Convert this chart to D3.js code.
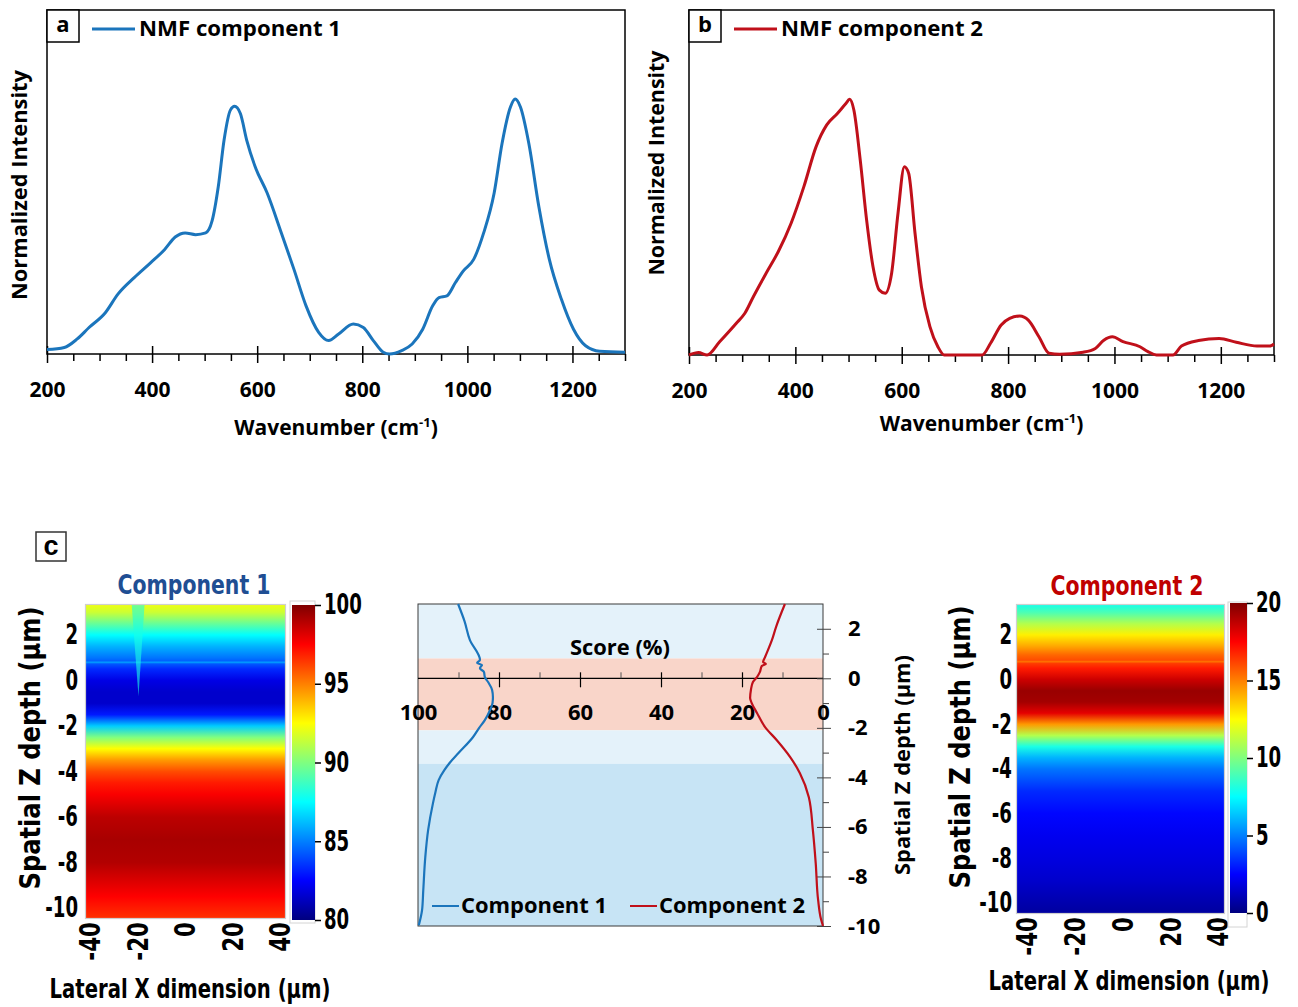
<!DOCTYPE html>
<html>
<head>
<meta charset="utf-8">
<script src="https://d3js.org/d3.v7.min.js"></script>
<style>
body { margin: 0; background: #fff; }
svg { display: block; }
</style>
</head>
<body>
<div id="fig"></div>
<script>
// ---- panel a / b : NMF spectra (intensity as fraction of frame height) ----
var wnA = [200, 233, 257, 280, 311, 335, 366, 397, 424, 444, 463, 483, 502, 514, 526, 537, 549, 557, 568, 580, 596, 619, 646, 670, 693, 717, 736, 755, 783, 802, 821, 840, 852, 875, 895, 915, 934, 946, 961, 977, 992, 1012, 1031, 1051, 1066, 1082, 1091, 1101, 1117, 1136, 1156, 1179, 1202, 1225, 1252, 1300];
var intA = [0.013, 0.019, 0.043, 0.077, 0.12, 0.174, 0.222, 0.265, 0.304, 0.34, 0.352, 0.347, 0.352, 0.386, 0.487, 0.622, 0.709, 0.72, 0.699, 0.622, 0.545, 0.468, 0.352, 0.246, 0.14, 0.063, 0.039, 0.058, 0.087, 0.077, 0.039, 0.005, 0, 0.01, 0.029, 0.072, 0.14, 0.164, 0.169, 0.207, 0.241, 0.275, 0.352, 0.468, 0.612, 0.718, 0.741, 0.718, 0.612, 0.429, 0.275, 0.159, 0.072, 0.024, 0.008, 0.005];

var wnB = [200, 218, 234, 258, 289, 305, 321, 345, 368, 392, 416, 439, 459, 479, 495, 502, 510, 522, 534, 546, 558, 569, 581, 593, 605, 613, 625, 637, 653, 668, 680, 751, 767, 787, 803, 822, 838, 858, 877, 897, 941, 964, 980, 996, 1016, 1048, 1063, 1079, 1110, 1126, 1158, 1197, 1229, 1268, 1292, 1300];
var intB = [0, 0.007, 0, 0.039, 0.092, 0.121, 0.169, 0.237, 0.3, 0.382, 0.488, 0.604, 0.667, 0.7, 0.729, 0.741, 0.71, 0.565, 0.391, 0.256, 0.188, 0.179, 0.237, 0.411, 0.546, 0.527, 0.353, 0.198, 0.082, 0.024, 0, 0, 0.034, 0.087, 0.106, 0.113, 0.101, 0.053, 0.005, 0.002, 0.008, 0.019, 0.043, 0.053, 0.039, 0.024, 0.01, 0, 0, 0.026, 0.042, 0.048, 0.037, 0.026, 0.026, 0.032];

var wnMajor = [200, 400, 600, 800, 1000, 1200];
var wnMinor = [250, 300, 350, 450, 500, 550, 650, 700, 750, 850, 900, 950, 1050, 1100, 1150, 1250, 1300];

// ---- panel c : depth profiles (score %) ----
var depth1 = [3.0, 2.3, 1.55, 0.74, 0.62, 0.54, 0.41, 0.25, 0.05, -0.15, -0.47, -0.76, -1.0, -1.28, -1.69, -2.0, -2.37, -3.02, -3.42, -3.71, -4.11, -4.6, -5.04, -6.13, -7.22, -8.56, -9.36, -9.97];
var score1 = [90.1, 88.5, 87.2, 84.7, 85.4, 84.2, 84.7, 83.7, 83.5, 82.7, 81.7, 81.5, 81.6, 82.2, 83.5, 84.9, 86.4, 90.0, 92.2, 93.5, 94.9, 95.7, 96.3, 97.5, 98.2, 98.7, 99.0, 99.8];
var depth2 = [3.0, 2.07, 1.55, 0.86, 0.66, 0.58, 0.5, 0.25, 0.05, -0.15, -0.47, -0.8, -1.0, -1.4, -1.97, -2.5, -3.18, -3.83, -4.8, -6.13, -7.46, -8.96, -9.72, -10.0];
var score2 = [9.4, 11.6, 12.6, 14.3, 14.8, 14.1, 15.1, 15.6, 16.3, 17.3, 17.8, 18.0, 17.6, 16.3, 14.3, 11.4, 8.1, 5.7, 3.5, 2.5, 1.8, 1.2, 0.5, 0];

// layer bands behind the profiles (depth limits)
var bandTop = [3, 0.8, -2.1, -3.45];
var bandBottom = [0.8, -2.1, -3.45, -10];
var scoreMajor = [100, 80, 60, 40, 20, 0];
var scoreMinor = [90, 70, 50, 30, 10];
var depthMajor = [2, 0, -2, -4, -6, -8, -10];
var depthMinor = [1, -1, -3, -5, -7, -9];

// ---- panel c : heatmaps, score per depth row ----
var hm1Depth = [3.5, 3.0, 2.5, 2.0, 1.5, 1.0, 0.87, 0.8, 0.73, 0.5, 0.0, -0.5, -1.0, -1.5, -2.0, -2.5, -3.0, -3.5, -4.0, -4.5, -5.0, -5.5, -6.0, -7.0, -8.0, -8.5, -9.0, -9.5, -10.0, -10.5];
var hm1Val = [92.5, 91.5, 89.5, 87.5, 86, 84.8, 84.4, 85.6, 84.2, 83.3, 82, 81.5, 81.5, 83, 86.5, 90, 92.5, 94.5, 96, 97, 97.6, 98.2, 98.8, 99.2, 99, 98.5, 98, 97.5, 97, 96.5];
// narrow streak near x = -20 µm in component 1
var streakX = [-22.5, -17, -19.6];
var streakZ = [3.4, 3.4, -0.7];
var streakVal = 88;

var hm2Depth = [3.5, 3.0, 2.5, 2.0, 1.5, 1.1, 0.87, 0.8, 0.73, 0.5, 0.0, -0.5, -1.0, -1.5, -2.0, -2.5, -3.0, -3.5, -4.0, -5.0, -6.0, -7.0, -8.0, -9.0, -10.0, -10.5];
var hm2Val = [7.5, 9, 11, 12.8, 14.2, 15.5, 16, 15.2, 16.3, 17, 18.5, 19.5, 19.3, 18, 14.5, 11, 8, 6, 4.8, 3.3, 2.6, 2.2, 1.9, 1.5, 0.9, 0.6];

var lateralTicks = [-40, -20, 0, 20, 40];
var cbar1Ticks = [80, 85, 90, 95, 100];
var cbar2Ticks = [0, 5, 10, 15, 20];

var BLUE = "#1b75bc", RED = "#c0101a";
var CAL = "'Open Sans', Lato, sans-serif";
var NAR = "'DejaVu Sans Condensed', 'DejaVu Sans', sans-serif";
var plain = function (d) { return String(d); };

var svg = d3.select("#fig").append("svg").attr("width", 1298).attr("height", 1007);
svg.append("rect").attr("width", 1298).attr("height", 1007).attr("fill", "#fff");
var defs = svg.append("defs");

var jet = d3.scaleLinear()
  .domain([0, 0.125, 0.375, 0.625, 0.875, 1])
  .range(["#00007f", "#0000ff", "#00ffff", "#ffff00", "#ff0000", "#7f0000"]);

function styleAxis(ax, family, size) {
  ax.attr("font-family", family).attr("font-size", size).attr("font-weight", "bold");
  ax.select(".domain").remove();
}
// squeeze text horizontally (no narrow font installed)
function squeeze(sel, f) {
  sel.each(function () {
    var w = this.getComputedTextLength();
    d3.select(this).attr("textLength", w * f).attr("lengthAdjust", "spacingAndGlyphs");
  });
}
function fitTo(sel, w) {
  sel.attr("textLength", w).attr("lengthAdjust", "spacingAndGlyphs");
}

// Spectrum panel with frame, ticks, legend and letter box
function spectrum(o) {
  var xs = d3.scaleLinear().domain([200, 1300]).range([o.left, o.right]);
  var ys = d3.scaleLinear().domain([0, 1]).range([o.bottom, o.top]);
  var g = svg.append("g");

  g.append("rect").attr("x", o.left).attr("y", o.top)
    .attr("width", o.right - o.left).attr("height", o.bottom - o.top)
    .attr("fill", "none").attr("stroke", "#000").attr("stroke-width", 1.5);

  var minor = g.append("g").attr("transform", "translate(0," + o.bottom + ")")
    .call(d3.axisBottom(xs).tickValues(wnMinor).tickSize(7).tickFormat(""));
  styleAxis(minor, CAL, 22);
  minor.selectAll(".tick line").attr("stroke-width", 1.5);

  var major = g.append("g").attr("transform", "translate(0," + o.bottom + ")")
    .call(d3.axisBottom(xs).tickValues(wnMajor).tickSize(9).tickFormat(plain));
  styleAxis(major, CAL, 21);
  major.selectAll(".tick line").attr("y1", -8).attr("stroke-width", 1.5);
  major.selectAll(".tick text").attr("y", 36).attr("dy", "0.35em").attr("fill", "#000");

  var t = g.append("text").attr("x", (o.left + o.right) / 2).attr("y", o.xTitleY)
    .attr("text-anchor", "middle").attr("dy", "0.35em")
    .attr("font-family", CAL).attr("font-size", 21).attr("font-weight", "bold");
  t.append("tspan").text("Wavenumber (cm");
  t.append("tspan").attr("font-size", 13).attr("dy", -8).text("-1");
  t.append("tspan").attr("dy", 8).text(")");

  g.append("text").attr("transform", "translate(" + o.yTitleX + "," + o.yTitleY + ") rotate(-90)")
    .attr("text-anchor", "middle").attr("dy", "0.35em")
    .attr("font-family", CAL).attr("font-size", 21).attr("font-weight", "bold")
    .text("Normalized Intensity").call(fitTo, o.yTitleW);

  var line = d3.line().x(function (d) { return xs(d[0]); }).y(function (d) { return ys(d[1]); })
    .curve(d3.curveMonotoneX);
  g.append("path").datum(d3.zip(o.wn, o.val)).attr("d", line)
    .attr("fill", "none").attr("stroke", o.color).attr("stroke-width", 3).attr("stroke-linejoin", "round");

  // letter box + legend
  g.append("rect").attr("x", o.left).attr("y", o.top).attr("width", 32).attr("height", 32)
    .attr("fill", "#fff").attr("stroke", "#000").attr("stroke-width", 1.5);
  g.append("text").attr("x", o.left + 16).attr("y", o.top + 14).attr("dy", "0.35em")
    .attr("text-anchor", "middle").attr("font-family", CAL).attr("font-size", 22).attr("font-weight", "bold")
    .text(o.letter);
  g.append("line").attr("x1", o.left + 45).attr("x2", o.left + 88).attr("y1", o.top + 19).attr("y2", o.top + 19)
    .attr("stroke", o.color).attr("stroke-width", 3);
  g.append("text").attr("x", o.left + 92).attr("y", o.top + 19).attr("dy", "0.35em")
    .attr("font-family", CAL).attr("font-size", 21).attr("font-weight", "bold")
    .text(o.legend).call(fitTo, 202);
}

spectrum({ left: 47, right: 625, top: 10, bottom: 354, wn: wnA, val: intA, color: BLUE,
  letter: "a", legend: "NMF component 1", xTitleY: 428, yTitleX: 20, yTitleY: 185, yTitleW: 230 });
spectrum({ left: 689, right: 1274, top: 10, bottom: 355, wn: wnB, val: intB, color: RED,
  letter: "b", legend: "NMF component 2", xTitleY: 424, yTitleX: 657, yTitleY: 163, yTitleW: 225 });

// ---- label c ----
svg.append("rect").attr("x", 36).attr("y", 532).attr("width", 30).attr("height", 29)
  .attr("fill", "#fff").attr("stroke", "#333").attr("stroke-width", 1.5);
svg.append("text").attr("x", 51).attr("y", 546).attr("dy", "0.35em").attr("text-anchor", "middle")
  .attr("font-family", "'Liberation Sans', Arial, sans-serif").attr("font-size", 27).attr("font-weight", "bold")
  .text("c");

// Heatmap of a score vs depth (rows) with colour bar
function heatmap(o) {
  var xs = d3.scaleLinear().domain(o.xDom).range([o.x0, o.x1]);
  var ys = d3.scaleLinear().domain(o.zDom).range([o.y0, o.y1]);
  var cs = d3.scaleLinear().domain(o.cDom).range([0, 1]).clamp(true);
  var g = svg.append("g");

  var gTop = ys(o.depth[0]), gBot = ys(o.depth[o.depth.length - 1]);
  var grad = defs.append("linearGradient").attr("id", "hm" + o.id)
    .attr("gradientUnits", "userSpaceOnUse").attr("x1", 0).attr("x2", 0).attr("y1", gTop).attr("y2", gBot);
  o.depth.forEach(function (z, i) {
    grad.append("stop").attr("offset", (ys(z) - gTop) / (gBot - gTop)).attr("stop-color", jet(cs(o.val[i])));
  });
  defs.append("clipPath").attr("id", "clip" + o.id).append("rect")
    .attr("x", o.x0).attr("y", o.y0).attr("width", o.x1 - o.x0).attr("height", o.y1 - o.y0);

  var plot = g.append("g").attr("clip-path", "url(#clip" + o.id + ")");
  plot.append("rect").attr("x", o.x0).attr("y", o.y0).attr("width", o.x1 - o.x0).attr("height", o.y1 - o.y0)
    .attr("fill", "url(#hm" + o.id + ")");
  if (o.streak) {
    var pts = o.streak.x.map(function (x, i) { return [xs(x), ys(o.streak.z[i])]; });
    plot.append("path").attr("d", "M" + pts.join("L") + "Z")
      .attr("fill", jet(cs(o.streak.val))).attr("opacity", 0.6);
  }
  g.append("rect").attr("x", o.x0 - 0.5).attr("y", o.y0 - 0.5).attr("width", o.x1 - o.x0 + 1).attr("height", o.y1 - o.y0 + 1)
    .attr("fill", "none").attr("stroke", "#cfcfcf").attr("stroke-width", 1.2);

  // title
  g.append("text").attr("x", o.titleX).attr("y", o.titleY).attr("text-anchor", "middle")
    .attr("font-family", NAR).attr("font-size", 26).attr("font-weight", "bold").attr("fill", o.titleColor)
    .text(o.title).call(fitTo, 153);

  // depth axis
  var yax = g.append("g").attr("transform", "translate(" + o.x0 + ",0)")
    .call(d3.axisLeft(ys).tickValues(depthMajor).tickSize(0).tickPadding(o.yPad).tickFormat(plain));
  styleAxis(yax, NAR, 28);
  yax.selectAll("text").attr("fill", "#000").call(squeeze, 0.72);

  // lateral axis (rotated labels)
  var xax = g.append("g").attr("transform", "translate(0," + (o.y1 + 4) + ")")
    .call(d3.axisBottom(xs).tickValues(lateralTicks).tickSize(0).tickFormat(plain));
  styleAxis(xax, NAR, 28);
  xax.selectAll("text").attr("fill", "#000").attr("y", 0).attr("dy", "0.35em")
    .attr("transform", "rotate(-90)").attr("text-anchor", "end").call(squeeze, 0.85);

  // lateral title: squeezed with a transform so its box stays inside the page
  var lt = g.append("g").attr("transform", "translate(" + o.xTitleX + "," + o.xTitleY + ")");
  var ltx = lt.append("text").attr("x", 0).attr("y", 0).attr("text-anchor", "middle")
    .attr("font-family", NAR).attr("font-size", 26).attr("font-weight", "bold")
    .text("Lateral X dimension (µm)");
  var natW = ltx.node().getComputedTextLength();
  lt.attr("transform", "translate(" + o.xTitleX + "," + o.xTitleY + ") scale(" + (281 / natW) + ",1)");

  g.append("text").attr("transform", "translate(" + o.yTitleX + "," + o.yTitleY + ") rotate(-90)")
    .attr("text-anchor", "middle").attr("dy", "0.35em")
    .attr("font-family", NAR).attr("font-size", 28).attr("font-weight", "bold")
    .text("Spatial Z depth (µm)").call(fitTo, 283);

  // colour bar
  var cb = d3.scaleLinear().domain(o.cDom).range([o.cbY1, o.cbY0]);
  var cg = defs.append("linearGradient").attr("id", "cb" + o.id).attr("x1", 0).attr("x2", 0).attr("y1", 1).attr("y2", 0);
  jet.domain().forEach(function (t) { cg.append("stop").attr("offset", t).attr("stop-color", jet(t)); });
  g.append("rect").attr("x", o.boxX0).attr("y", o.boxY0).attr("width", o.boxX1 - o.boxX0).attr("height", o.boxY1 - o.boxY0)
    .attr("fill", "#fff").attr("stroke", "#d4d4d4").attr("stroke-width", 1);
  g.append("rect").attr("x", o.cbX0).attr("y", o.cbY0).attr("width", o.cbX1 - o.cbX0).attr("height", o.cbY1 - o.cbY0)
    .attr("fill", "url(#cb" + o.id + ")");
  var cax = g.append("g").attr("transform", "translate(" + o.cbX1 + ",0)")
    .call(d3.axisRight(cb).tickValues(o.cTicks).tickSize(6).tickPadding(3).tickFormat(plain));
  styleAxis(cax, NAR, 28);
  cax.selectAll("text").attr("fill", "#000").call(squeeze, 0.72);
  cax.selectAll(".tick line").attr("stroke-width", 1.5);
}

heatmap({ id: 1, xDom: [-41.7, 42.1], zDom: [3.32, -10.44], x0: 86, x1: 285, y0: 605, y1: 918,
  depth: hm1Depth, val: hm1Val, cDom: [80, 100],
  streak: { x: streakX, z: streakZ, val: streakVal },
  title: "Component 1", titleColor: "#1f4e93", titleX: 194, titleY: 594, yPad: 8,
  xTitleX: 190, xTitleY: 998, yTitleX: 30, yTitleY: 748,
  boxX0: 290, boxX1: 315, boxY0: 601, boxY1: 923, cbX0: 292, cbX1: 315, cbY0: 605, cbY1: 920, cTicks: cbar1Ticks });

heatmap({ id: 2, xDom: [-44.2, 42.5], zDom: [3.34, -10.45], x0: 1017, x1: 1224, y0: 605, y1: 913,
  depth: hm2Depth, val: hm2Val, cDom: [0, 20],
  title: "Component 2", titleColor: "#c00000", titleX: 1127, titleY: 595, yPad: 5,
  xTitleX: 1129, xTitleY: 990, yTitleX: 960, yTitleY: 747,
  boxX0: 1228, boxX1: 1247, boxY0: 602, boxY1: 927, cbX0: 1230, cbX1: 1247, cbY0: 603, cbY1: 913, cTicks: cbar2Ticks });

// ---- middle: depth profiles ----
(function () {
  var sx = d3.scaleLinear().domain([100, 0]).range([418, 823]);
  var sy = d3.scaleLinear().domain([3, -10]).range([604, 926]);
  var g = svg.append("g");
  var bandColors = ["#e4f2fa", "#f9d5c9", "#e4f2fa", "#c7e4f5"];

  g.selectAll("rect.band").data(bandTop).enter().append("rect").attr("class", "band")
    .attr("x", sx(100)).attr("width", sx(0) - sx(100))
    .attr("y", function (d) { return sy(d); })
    .attr("height", function (d, i) { return sy(bandBottom[i]) - sy(d); })
    .attr("fill", function (d, i) { return bandColors[i]; });

  g.append("rect").attr("x", sx(100)).attr("y", sy(3)).attr("width", sx(0) - sx(100)).attr("height", sy(-10) - sy(3))
    .attr("fill", "none").attr("stroke", "#3a3a3a").attr("stroke-width", 1);

  // score axis drawn at depth 0
  g.append("line").attr("x1", sx(100)).attr("x2", sx(0)).attr("y1", sy(0)).attr("y2", sy(0))
    .attr("stroke", "#000").attr("stroke-width", 1.3);
  var smin = g.append("g").attr("transform", "translate(0," + sy(0) + ")")
    .call(d3.axisTop(sx).tickValues(scoreMinor).tickSize(6).tickFormat(""));
  styleAxis(smin, CAL, 22);
  smin.selectAll(".tick line").attr("stroke", "#555");
  var smaj = g.append("g").attr("transform", "translate(0," + sy(0) + ")")
    .call(d3.axisBottom(sx).tickValues(scoreMajor).tickSize(9).tickFormat(plain));
  styleAxis(smaj, CAL, 22);
  smaj.selectAll(".tick line").attr("y1", -6).attr("stroke-width", 1.2)
    .filter(function (d) { return d === 100 || d === 0; }).remove();
  smaj.selectAll(".tick text").attr("y", 34).attr("dy", "0.35em").attr("fill", "#000");
  g.append("text").attr("x", 620).attr("y", 648).attr("dy", "0.35em").attr("text-anchor", "middle")
    .attr("font-family", CAL).attr("font-size", 21).attr("font-weight", "bold").text("Score (%)").call(fitTo, 100);

  // depth axis on the right
  var dmin = g.append("g").attr("transform", "translate(" + sx(0) + ",0)")
    .call(d3.axisRight(sy).tickValues(depthMinor).tickSize(6).tickFormat(""));
  styleAxis(dmin, CAL, 22);
  dmin.selectAll(".tick line").attr("stroke", "#444");
  var dmaj = g.append("g").attr("transform", "translate(" + sx(0) + ",0)")
    .call(d3.axisRight(sy).tickValues(depthMajor).tickSize(8).tickPadding(17).tickFormat(plain));
  styleAxis(dmaj, CAL, 22);
  dmaj.selectAll(".tick line").attr("x1", -6).attr("stroke", "#444");
  dmaj.selectAll(".tick text").attr("fill", "#000");
  g.append("text").attr("transform", "translate(903,765) rotate(-90)").attr("text-anchor", "middle").attr("dy", "0.35em")
    .attr("font-family", CAL).attr("font-size", 21).attr("font-weight", "bold").text("Spatial Z depth (µm)").call(fitTo, 220);

  var line = d3.line().x(function (d) { return sx(d[1]); }).y(function (d) { return sy(d[0]); })
    .curve(d3.curveMonotoneY);
  g.append("path").datum(d3.zip(depth1, score1)).attr("d", line)
    .attr("fill", "none").attr("stroke", BLUE).attr("stroke-width", 2.2);
  g.append("path").datum(d3.zip(depth2, score2)).attr("d", line)
    .attr("fill", "none").attr("stroke", RED).attr("stroke-width", 2.2);

  // legend
  var leg = [{ x: 432, label: "Component 1", color: BLUE }, { x: 630, label: "Component 2", color: RED }];
  leg.forEach(function (l) {
    g.append("line").attr("x1", l.x).attr("x2", l.x + 27).attr("y1", 906).attr("y2", 906)
      .attr("stroke", l.color).attr("stroke-width", 2);
    g.append("text").attr("x", l.x + 29).attr("y", 906).attr("dy", "0.35em")
      .attr("font-family", CAL).attr("font-size", 21).attr("font-weight", "bold").text(l.label).call(fitTo, 146);
  });
})();
</script>
</body>
</html>
